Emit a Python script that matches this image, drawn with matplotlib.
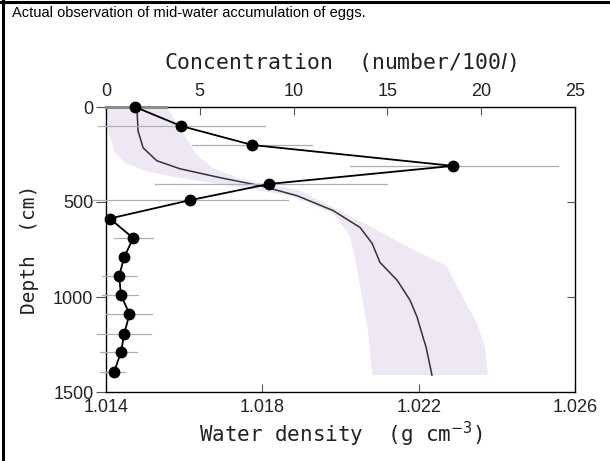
import numpy as np
import matplotlib.pyplot as plt
from matplotlib.lines import Line2D

# egg concentration profile (number / 100 l) vs depth (cm)
depth_pts = [0, 100, 200, 310, 405, 490, 587, 690, 790, 890, 990, 1090, 1195, 1290, 1395]
conc = [1.55, 4.0, 7.8, 18.5, 8.7, 4.5, 0.2, 1.45, 0.97, 0.7, 0.8, 1.25, 0.97, 0.8, 0.43]
conc_lo = [0.0, -0.4, 4.6, 13.0, 2.6, -0.7, 0.2, 0.4, 0.97, -0.2, -0.2, 0.0, -0.5, -0.3, -0.3]
conc_hi = [3.2, 8.5, 11.0, 24.1, 15.0, 9.7, 0.2, 2.5, 0.97, 1.65, 1.7, 2.45, 2.4, 1.65, 1.0]

# mean water density profile
dens_depth = [0, 126, 215, 283, 325, 372, 414, 467, 545, 634, 718, 818, 912, 1017, 1106, 1211, 1264, 1411]
dens = [1.01479, 1.01482, 1.01495, 1.01530, 1.01589, 1.01692, 1.01794, 1.01889, 1.01981,
        1.02050, 1.02081, 1.02101, 1.02145, 1.02178, 1.02196, 1.02211, 1.02219, 1.02234]

# density range (shaded band)
band_left_depth = [0, 126, 241, 294, 336, 372, 414, 467, 561, 676, 823, 1002, 1175, 1411]
band_left = [1.01403, 1.01405, 1.01423, 1.01449, 1.01500, 1.01584, 1.01717, 1.01871,
             1.01981, 1.02024, 1.02040, 1.02055, 1.02070, 1.02081]
band_right_depth = [0, 73, 152, 241, 320, 378, 440, 545, 650, 755, 834, 1002, 1138, 1264, 1411]
band_right = [1.01556, 1.01577, 1.01602, 1.01628, 1.01671, 1.01743, 1.01896, 1.01999,
              1.02095, 1.02190, 1.02270, 1.02313, 1.02349, 1.02370, 1.02377]

fig = plt.figure(figsize=(6.1, 4.61), dpi=100)

ax = fig.add_axes([106/610, 1-392/461, 469/610, 285/461])
ax.set_facecolor('white')

# shaded band
bx = band_left + band_right[::-1]
by = band_left_depth + band_right_depth[::-1]
ax.fill(bx, by, color='#eee8f5', lw=0, zorder=1)
ax.plot(dens, dens_depth, color='#333333', lw=1.1, zorder=2)

ax.set_xlim(1.014, 1.026)
ax.set_ylim(1500, 0)
ax.set_xticks([1.014, 1.018, 1.022, 1.026])
ax.set_xticklabels(['1.014', '1.018', '1.022', '1.026'])
ax.set_yticks([0, 500, 1000, 1500])
ax.tick_params(axis='x', direction='in', length=6, width=0.8, color='#555555',
               labelsize=13, pad=5, bottom=True, top=False)
ax.tick_params(axis='y', direction='out', length=7, width=0.8, color='#555555',
               labelsize=13, pad=2)
for lab in ax.get_xticklabels() + ax.get_yticklabels():
    lab.set_fontfamily('Liberation Sans')
    lab.set_color('#222222')
for s in ax.spines.values():
    s.set_color('#555555')
    s.set_linewidth(0.9)
ax.set_xlabel('Water density  (g cm$^{-3}$)', family='DejaVu Sans Mono',
              fontsize=15, color='#222222', labelpad=3)
ax.set_ylabel('Depth  (cm)', family='DejaVu Sans Mono', fontsize=14,
              color='#222222', labelpad=10)

# right-side inward ticks
axr = ax.twinx()
axr.set_ylim(1500, 0)
axr.set_yticks([500, 1000])
axr.tick_params(axis='y', direction='in', length=6, width=0.8, color='#555555',
                labelright=False)

# concentration on top axis
ax2 = ax.twiny()
ax2.set_xlim(0, 25)
ax2.set_ylim(1500, 0)
ax2.set_xticks([0, 5, 10, 15, 20, 25])
ax2.tick_params(axis='x', direction='in', length=6, width=0.8, color='#555555',
                labelsize=13, pad=5)
for lab in ax2.get_xticklabels():
    lab.set_fontfamily('Liberation Sans')
    lab.set_color('#222222')
ax2.set_xlabel('Concentration  (number/100$\\mathit{l}$)', family='DejaVu Sans Mono',
               fontsize=15.5, color='#222222', labelpad=10)

for lo, hi, d in zip(conc_lo, conc_hi, depth_pts):
    if hi > lo:
        if d == 0:
            ax2.plot([lo, hi], [d, d], color='#8c8c8c', lw=2.2, clip_on=False, zorder=3)
        else:
            ax2.plot([lo, hi], [d, d], color='#a7b0bb', lw=0.9, clip_on=False, zorder=3)
ax2.plot(conc, depth_pts, color='black', lw=1.3, marker='o', ms=7.5,
         clip_on=False, zorder=4)

# frame of the page
fig.add_artist(Line2D([3/610, 3/610], [0, 1], color='black', lw=2.2))
fig.add_artist(Line2D([0, 1], [1-2/461, 1-2/461], color='black', lw=2.2))
fig.text(12/610, 1-13/461, 'Actual observation of mid-water accumulation of eggs.',
         family='Liberation Sans', fontsize=10.5, va='center', ha='left')

fig.savefig('out.png', dpi=100)
